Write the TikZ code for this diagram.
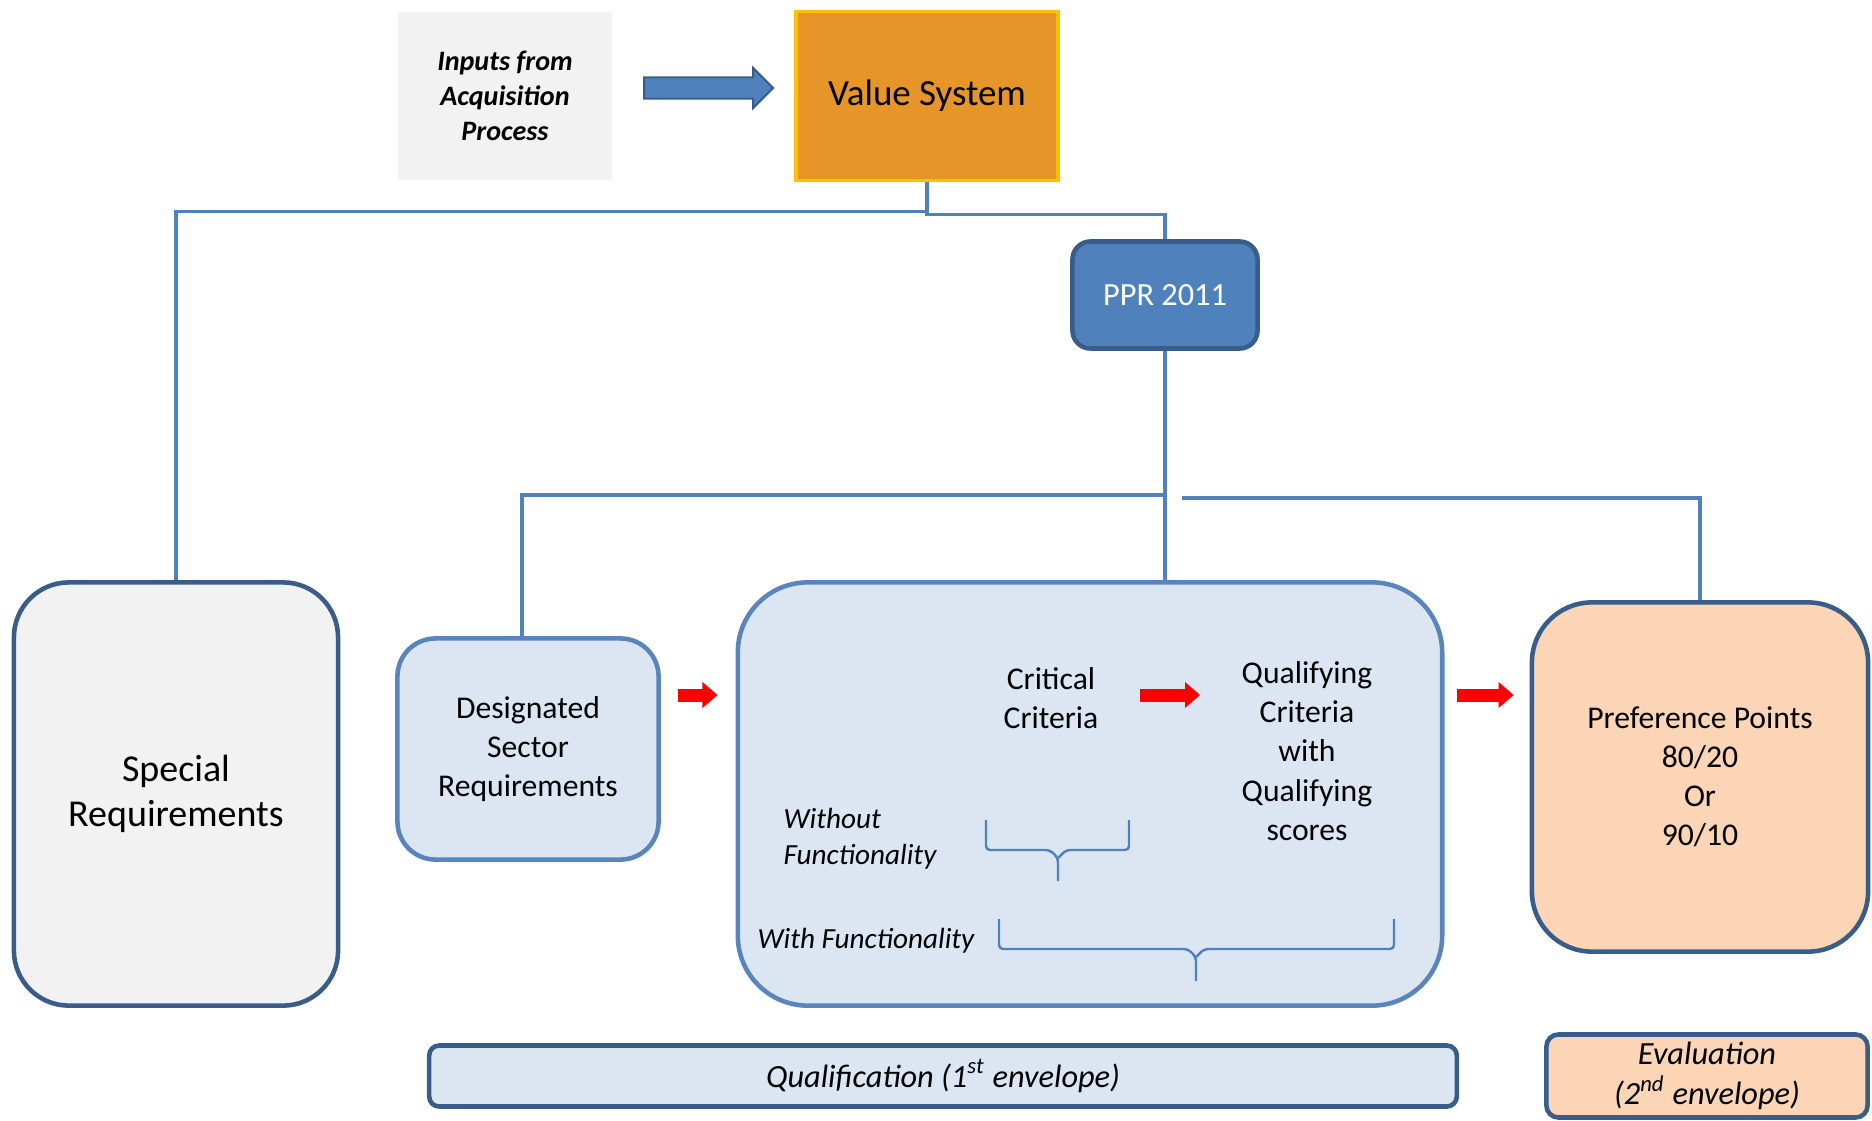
\documentclass[tikz,border=0pt]{standalone}
\usepackage{fontspec}
\setmainfont{Carlito}
\usepackage{xcolor}
\usepackage{tikz}
\usetikzlibrary{arrows.meta, positioning, shapes.arrows, calc}

\definecolor{boxblue}{HTML}{4F81BD}
\definecolor{edgeblue}{HTML}{385D8A}
\definecolor{midblue}{HTML}{5A85BC}
\definecolor{paleblue}{HTML}{DCE6F2}
\definecolor{palegray}{HTML}{F2F2F2}
\definecolor{peach}{HTML}{FBD5B5}
\definecolor{amber}{HTML}{E69528}
\definecolor{gold}{HTML}{FFC000}

\begin{document}
\begin{tikzpicture}[x=0.01cm, y=-0.01cm,
    panel/.style={draw, line width=1.3pt, align=center, inner sep=0pt},
    plain/.style={align=center, inner sep=0pt, font=\fontsize{9}{11.2}\selectfont},
    note/.style={inner sep=0pt, font=\fontsize{8.3}{10.2}\selectfont\itshape},
    link/.style={draw=boxblue, line width=1pt},
    redarrow/.style={red, line width=0.13cm, -{Triangle[length=0.15cm, width=0.25cm]}},
    bracket/.style={draw=boxblue, line width=0.7pt, rounded corners=0.04cm}]
  \useasboundingbox (0,0) rectangle (1872,1121);

  % top row
  \node[fill=palegray, minimum width=2.14cm, minimum height=1.67cm, align=center,
        font=\fontsize{8}{10}\selectfont\bfseries\itshape] (inputs) at (505,96) {Inputs from\\Acquisition\\Process};
  \node[panel, fill=amber, draw=gold, line width=1.1pt, minimum width=2.62cm, minimum height=1.69cm,
        font=\fontsize{10.5}{13}\selectfont] (value) at (927,96) {Value System};
  \path (inputs) -- (value) node[midway, yshift=0.08cm, single arrow, inner sep=0pt, minimum height=1.29cm,
        single arrow head extend=0.095cm, fill=boxblue, draw=edgeblue, line width=0.6pt] (feed) {\rule{0pt}{0.19cm}};

  \node[panel, fill=boxblue, draw=edgeblue, rounded corners=0.18cm, minimum width=1.85cm, minimum height=1.07cm,
        text=white, font=\fontsize{9.2}{11}\selectfont] (ppr) at (1165,295) {PPR 2011};

  % main row
  \node[panel, fill=palegray, draw=edgeblue, rounded corners=0.55cm, minimum width=3.24cm, minimum height=4.23cm,
        font=\fontsize{10.8}{12.9}\selectfont] (special) at (176,794) {\rule{0pt}{0.1cm}Special\\Requirements};
  \node[panel, fill=paleblue, draw=midblue, rounded corners=0.38cm, minimum width=2.61cm, minimum height=2.21cm,
        font=\fontsize{9}{11.2}\selectfont] (sector) at (528,749) {Designated\\Sector\\Requirements};
  \node[panel, fill=paleblue, draw=midblue, rounded corners=0.7cm, minimum width=7.04cm, minimum height=4.23cm] (qualify) at (1090,794) {};
  \node[panel, fill=peach, draw=edgeblue, rounded corners=0.6cm, minimum width=3.36cm, minimum height=3.49cm,
        font=\fontsize{9}{11.1}\selectfont] (pref) at (1700,777) {Preference Points\\80/20\\Or\\90/10};

  \node[plain] (critical) at (1051,698) {Critical\\Criteria};
  \node[plain] (qualcrit) at (1307,751) {Qualifying\\Criteria\\with\\Qualifying\\scores};
  \node[note, align=left, anchor=west] (withoutfn) at (783,839) {Without\\Functionality};
  \node[note] (withfn) at (866,941) {With Functionality};

  % bottom bars
  \node[panel, fill=paleblue, draw=edgeblue, rounded corners=0.1cm, minimum width=10.27cm, minimum height=0.61cm,
        font=\fontsize{9.2}{11}\selectfont\itshape] (firstenv) at (943,1076) {Qualification (1\textsuperscript{st} envelope)};
  \node[panel, fill=peach, draw=edgeblue, rounded corners=0.12cm, minimum width=3.21cm, minimum height=0.83cm,
        font=\fontsize{9.2}{11.4}\selectfont\itshape] (secondenv) at (1707,1076) {Evaluation\\(2\textsuperscript{nd} envelope)};

  % tree lines
  \coordinate (fork) at ($(ppr.south)+(0,144)$);
  \draw[link] (value.south) -- ++(0,29) -| (special.north);
  \draw[link] (value.south) -- ++(0,32) -| (ppr.north);
  \draw[link] (ppr.south) -- (ppr.south |- qualify.north);
  \draw[link] (fork) -| ([xshift=-0.06cm]sector.north);
  \draw[link] ($(fork)+(17,3)$) -| (pref.north);

  % red arrows
  \coordinate (arrowrow) at (0,695);
  \draw[redarrow, shorten <=0.17cm, shorten >=0.18cm] (sector.east |- arrowrow) -- (qualify.west |- arrowrow);
  \draw[redarrow] ([xshift=0.41cm]critical.east |- arrowrow) -- ([xshift=-0.41cm]qualcrit.west |- arrowrow);
  \draw[redarrow, shorten <=0.12cm, shorten >=0.16cm] (qualify.east |- arrowrow) -- (pref.west |- arrowrow);

  % brackets
  \draw[bracket] (986,820) -- (986,850) -- (1050,850) -- (1058,858) -- (1058,881);
  \draw[bracket] (1129,820) -- (1129,850) -- (1066,850) -- (1058,858);
  \draw[bracket] (999,919) -- (999,949) -- (1188,949) -- (1196,957) -- (1196,981);
  \draw[bracket] (1394,919) -- (1394,949) -- (1204,949) -- (1196,957);
\end{tikzpicture}
\end{document}
